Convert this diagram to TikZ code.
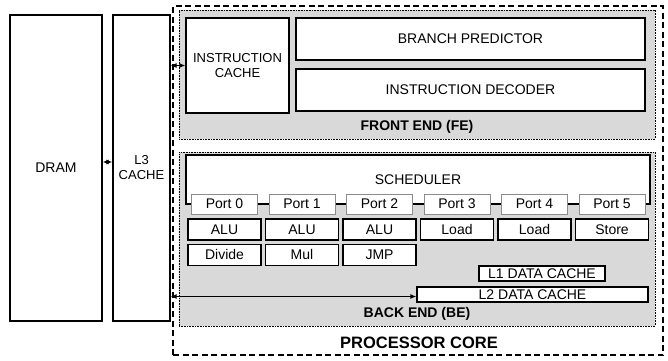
\documentclass[tikz,border=0pt]{standalone}
\usepackage{fontspec}
\setmainfont{Liberation Sans}
\usetikzlibrary{arrows.meta,positioning}
\definecolor{regiongray}{HTML}{D9D9D9}
\definecolor{portgray}{HTML}{8C8C8C}

\begin{document}
\begin{tikzpicture}[x=1pt,y=-1pt,
      txt/.style={font=\fontsize{14}{15.5}\selectfont},
      blk/.style={draw,line width=1.2pt,fill=white,inner sep=1pt,align=center,txt},
      unit/.style={blk,minimum width=73pt,minimum height=21pt},
      port/.style={draw=portgray,line width=0.8pt,fill=white,inner sep=1pt,
        minimum width=66pt,minimum height=20pt,txt},
      region/.style={draw,fill=regiongray,line width=0.8pt,dash pattern=on 0.8pt off 0.8pt},
      lbl/.style={font=\fontsize{14}{15.5}\selectfont\bfseries},
      arr/.style={{Latex[length=6pt,width=5pt]}-{Latex[length=6pt,width=5pt]},line width=1.3pt}]
    \useasboundingbox (0,0) rectangle (668,360);
    % processor core and its two regions
    \node[draw,line width=1.2pt,dash pattern=on 6pt off 3.5pt,minimum width=490pt,minimum height=349pt] (core) at (418,180.5) {};
    \node[region,minimum width=476pt,minimum height=129pt] (fe) at (417,74.5) {};
    \node[region,minimum width=476pt,minimum height=174pt] (be) at (417,239) {};
    \node[lbl,font=\fontsize{16.5}{18}\selectfont\bfseries] (corelbl) at (419,343) {PROCESSOR CORE};
    \node[lbl] (felbl) at (417,127) {FRONT END (FE)};
    \node[lbl] (belbl) at (417,314) {BACK END (BE)};

    % memory side
    \node[blk,minimum width=92pt,minimum height=306pt] (dram) at (56,168) {DRAM};
    \node[blk,minimum width=57pt,minimum height=306pt,font=\fontsize{13}{15}\selectfont] (l3) at (141.5,168) {L3\\CACHE};

    % front end
    \node[blk,minimum width=103pt,minimum height=95pt,font=\fontsize{13}{15}\selectfont] (icache) at (237.5,65.5) {INSTRUCTION\\CACHE};
    \node[blk,minimum width=349pt,minimum height=42pt] (bpred) at (470.5,39) {BRANCH PREDICTOR};
    \node[blk,minimum width=349pt,minimum height=42pt] (idec) at (470.5,90) {INSTRUCTION DECODER};

    % back end
    \node[blk,minimum width=464pt,minimum height=49pt] (sched) at (418,179.5) {SCHEDULER};
    \foreach \i/\u in {0/ALU,1/ALU,2/ALU,3/Load,4/Load,5/Store} {
      \node[port] (p\i) at (224.5+77.5*\i,204) {Port \i};
      \node[unit,below=4pt of p\i] (u\i) {\u};
    }
    \foreach \i/\u in {0/Divide,1/Mul,2/JMP}
      \node[unit,below=3pt of u\i] (v\i) {\u};
    \node[blk,minimum width=126pt,minimum height=15pt] (l1) at (542,273.5) {L1 DATA CACHE};
    \node[blk,minimum width=231pt,minimum height=15pt] (l2) at (532.5,294.5) {L2 DATA CACHE};

    % connections
    \draw[arr] ([yshift=6pt]dram.east) -- ([yshift=6pt]l3.west);
    \draw[arr] (l3.east |- icache.west) -- (icache.west);
    \draw[arr] ([yshift=-2pt]l3.east |- l2.west) -- ([yshift=-2pt]l2.west);
  \end{tikzpicture}
\end{document}
